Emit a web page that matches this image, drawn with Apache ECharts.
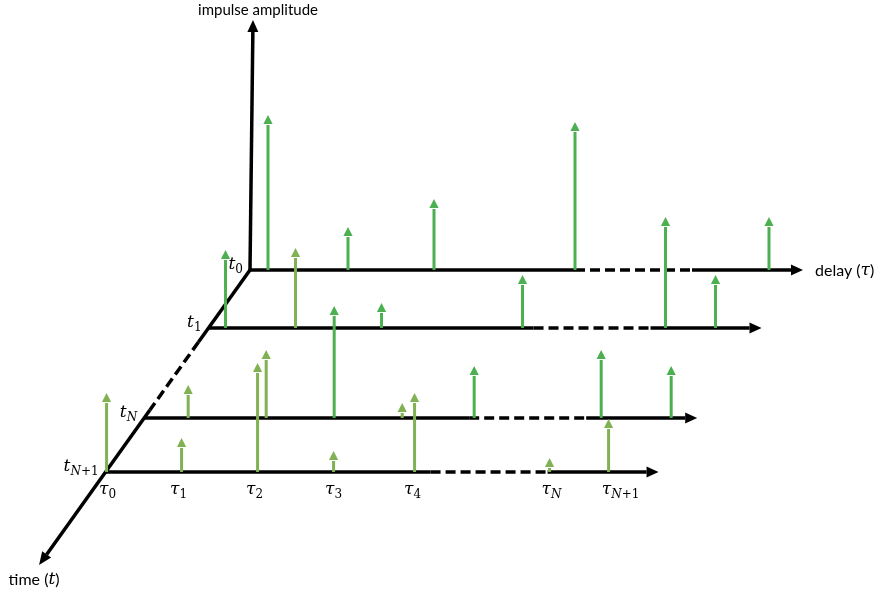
<!DOCTYPE html>
<html>
<head>
<meta charset="utf-8">
<script src="https://cdn.jsdelivr.net/npm/echarts@6/dist/echarts.min.js"></script>
<style>
  html, body { margin: 0; padding: 0; background: #fff; }
  #chart { width: 877px; height: 592px; }
</style>
</head>
<body>
<div id="chart"></div>
<script>
// time snapshots, by how far each sits back along the time axis
const rowNames = ['0', '1', 'N', 'N+1']
const rowDepth = [0, 58, 148, 202]

// impulses of each snapshot: [delay, amplitude, shade] (shade 0 = green, 1 = olive)
const impulsesT0 = [[18, 155, 0], [98, 43, 0], [184, 71, 0], [325, 148, 0], [519, 53, 0]]
const impulsesT1 = [[17, 78, 0], [87, 80, 1], [173, 25, 0], [314, 53, 0], [457, 111, 0], [507, 53, 0]]
const impulsesTN = [[44, 33, 1], [122, 68, 1], [190, 112, 0], [258, 15, 1], [330, 52, 0], [457, 68, 0], [527, 52, 0]]
const impulsesTN1 = [[1, 79, 1], [76, 34, 1], [152, 109, 1], [228, 21, 1], [309, 79, 1], [444, 14, 1], [503, 53, 1]]

// delay tick labels under the front axis
const tauNames = ['0', '1', '2', '3', '4', 'N', 'N+1']
const tauTicks = [2, 73, 149, 228, 307, 446, 515]

// axis extents (the middle part of each is drawn dashed)
const delayBreak = [325, 442]
const delayEnd = 553
const timeBreak = [72, 140]
const timeEnd = 295
const ampEnd = 250

const GREEN = '#4caf50'
const OLIVE = '#80b152'
const INK = '#000'
const SLANT = 0.715     // how far left the time axis runs per unit of depth
const AMP_LEAN = 3
const SANS = 'Lato, "Open Sans", sans-serif'
const MATH = '"DejaVu Serif", "Liberation Serif", serif'

function proj(api, tau, amp, depth) {
  return api.coord([tau - SLANT * depth, amp - depth])
}

function head(tip, from, len, half) {
  const dx = tip[0] - from[0], dy = tip[1] - from[1]
  const n = Math.hypot(dx, dy)
  const ux = dx / n, uy = dy / n
  const bx = tip[0] - ux * len, by = tip[1] - uy * len
  return {
    base: [bx, by],
    points: [tip, [bx - uy * half, by + ux * half], [bx + uy * half, by - ux * half]]
  }
}

function seg(a, b, dashed, color, width) {
  return {
    type: 'line',
    shape: { x1: a[0], y1: a[1], x2: b[0], y2: b[1] },
    style: { stroke: color || INK, lineWidth: width || 3.5, lineDash: dashed ? [10, 5] : null }
  }
}

function arrowTo(from, tip, len, half, color) {
  const h = head(tip, from, len, half)
  return { type: 'polygon', shape: { points: h.points }, style: { fill: color || INK }, base: h.base }
}

const sub = { fontFamily: MATH, fontSize: 12, fill: '#000', verticalAlign: 'bottom', lineHeight: 12 }
const mathRich = {
  i: { fontFamily: MATH, fontStyle: 'italic', fontSize: 17, fill: '#000', lineHeight: 21 },
  s: sub,
  si: Object.assign({}, sub, { fontStyle: 'italic' }),
  a: { fontFamily: SANS, fontSize: 16, fill: '#000', lineHeight: 21 }
}

// subscript: letters italic, digits and signs upright
function subText(name) {
  return name.replace(/([A-Za-z]+)|([^A-Za-z]+)/g, (m, letters) => letters ? '{si|' + m + '}' : '{s|' + m + '}')
}

function renderDelayAxis(params, api) {
  const d = api.value(1)
  const p = t => proj(api, t, 0, d)
  const start = p(0), b0 = p(delayBreak[0]), b1 = p(delayBreak[1]), tip = p(delayEnd)
  const h = arrowTo(start, tip, 12, 5.5)
  return {
    type: 'group',
    children: [seg(start, b0), seg(b0, b1, true), seg(b1, h.base), h]
  }
}

function renderTimeAxis(params, api) {
  const p = d => proj(api, 0, 0, d)
  const start = p(0), b0 = p(timeBreak[0]), b1 = p(timeBreak[1]), tip = p(timeEnd)
  const h = arrowTo(start, tip, 13, 5.5)
  return {
    type: 'group',
    children: [seg(start, b0), seg(b0, b1, true), seg(b1, h.base), h]
  }
}

function renderAmpAxis(params, api) {
  const start = proj(api, 0, 0, 0), tip = proj(api, AMP_LEAN, ampEnd, 0)
  const h = arrowTo(start, tip, 12, 5.5)
  return { type: 'group', children: [seg(start, h.base), h] }
}

function renderImpulse(params, api) {
  const tau = api.value(0), amp = api.value(1), d = api.value(2)
  const color = api.value(3) ? OLIVE : GREEN
  const base = proj(api, tau, 0, d), tip = proj(api, tau, amp, d)
  const h = arrowTo(base, tip, 9, 4.6, color)
  return {
    type: 'group',
    children: [seg(base, [h.base[0], h.base[1] + 1], false, color, 3), h]
  }
}

function renderRowLabel(params, api) {
  const p = proj(api, 0, 0, api.value(1))
  const name = rowNames[params.dataIndex]
  return {
    type: 'text',
    x: p[0] - 7,
    y: p[1] - 5,
    style: { text: '{i|t}' + subText(name), rich: mathRich, textAlign: 'right', textVerticalAlign: 'middle' }
  }
}

function renderTauLabel(params, api) {
  const p = proj(api, api.value(0), 0, rowDepth[rowDepth.length - 1])
  return {
    type: 'text',
    x: p[0],
    y: p[1] + 18,
    style: { text: '{i|τ}' + subText(tauNames[params.dataIndex]), rich: mathRich, textAlign: 'center', textVerticalAlign: 'middle' }
  }
}

function renderTitles(params, api) {
  const delayTip = proj(api, delayEnd, 0, 0)
  const timeTip = proj(api, 0, 0, timeEnd)
  const ampTip = proj(api, AMP_LEAN, ampEnd, 0)
  return {
    type: 'group',
    children: [
      { type: 'text', x: delayTip[0] + 12, y: delayTip[1] + 1,
        style: { text: '{a|delay (}{i|τ}{a|)}', rich: mathRich, textAlign: 'left', textVerticalAlign: 'middle' } },
      { type: 'text', x: timeTip[0] - 5, y: timeTip[1] + 15,
        style: { text: '{a|time (}{i|t}{a|)}', rich: mathRich, textAlign: 'center', textVerticalAlign: 'middle' } },
      { type: 'text', x: ampTip[0] + 5, y: ampTip[1] - 10,
        style: { text: 'impulse amplitude', font: '15px ' + SANS, fill: '#000', textAlign: 'center', textVerticalAlign: 'middle' } }
    ]
  }
}

const impulseRows = [impulsesT0, impulsesT1, impulsesTN, impulsesTN1]
const impulseData = []
impulseRows.forEach((row, r) => {
  row.forEach(([tau, amp, shade]) => impulseData.push([tau, amp, rowDepth[r], shade]))
})

const chart = echarts.init(document.getElementById('chart'))
chart.setOption({
  animation: false,
  backgroundColor: '#fff',
  grid: { left: 0, right: 0, top: 0, bottom: 0 },
  xAxis: { type: 'value', min: -250, max: 627, show: false },
  yAxis: { type: 'value', min: -322, max: 270, show: false },
  series: [
    { type: 'custom', renderItem: renderDelayAxis, data: rowDepth.map((d, i) => [i, d]), z: 1 },
    { type: 'custom', renderItem: renderTimeAxis, data: [[0, 0]], z: 1 },
    { type: 'custom', renderItem: renderAmpAxis, data: [[0, 0]], z: 1 },
    { type: 'custom', renderItem: renderImpulse, data: impulseData, encode: { x: 0, y: 1 }, z: 2 },
    { type: 'custom', renderItem: renderRowLabel, data: rowDepth.map((d, i) => [i, d]), z: 3 },
    { type: 'custom', renderItem: renderTauLabel, data: tauTicks.map(t => [t, 0]), z: 3 },
    { type: 'custom', renderItem: renderTitles, data: [[0, 0]], z: 3 }
  ]
})
</script>
</body>
</html>
